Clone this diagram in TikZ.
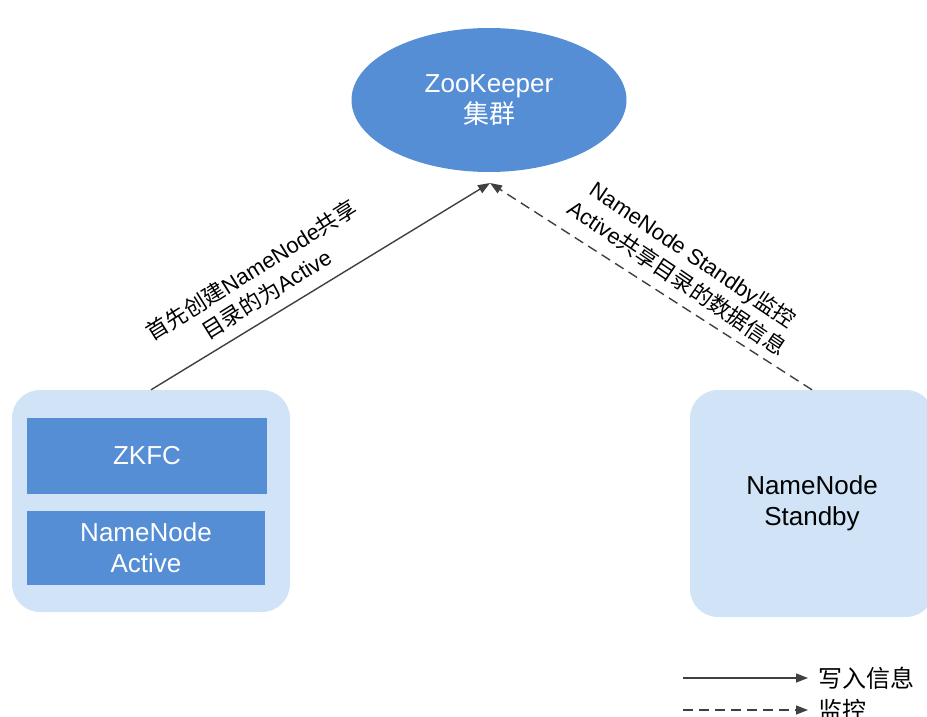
\documentclass[tikz,border=0pt]{standalone}
\usepackage{fontspec}
\setmainfont{Liberation Sans}
\newfontfamily\cjk{Noto Sans CJK SC}
\usetikzlibrary{shapes,arrows.meta,positioning,calc}
\definecolor{zkblue}{RGB}{85,142,213}
\definecolor{paleblue}{RGB}{209,228,247}
\definecolor{linegray}{RGB}{64,64,64}

\begin{document}
\begin{tikzpicture}[x=1pt, y=-1pt,
    holder/.style={fill=paleblue, rounded corners=28pt, align=center,
                   font=\fontsize{26}{31}\selectfont},
    inner/.style={fill=zkblue, text=white, align=center,
                  font=\fontsize{26}{31}\selectfont},
    link/.style={draw=linegray, line width=1.4pt,
                 -{Triangle[length=12pt,width=9pt]}},
    note/.style={align=center, font=\fontsize{22}{28}\selectfont},
    legendtext/.style={anchor=west, inner xsep=10pt, font=\fontsize{24}{28}\selectfont}]
  \useasboundingbox (0,0) rectangle (927,717);

  % ZooKeeper cluster
  \node[inner, ellipse, minimum width=275pt, minimum height=144pt] (zk)
       at (489,100) {ZooKeeper\\{\cjk 集群}};
  \coordinate (meet) at (490,183);

  % active side
  \node[holder, minimum width=278pt, minimum height=222pt] (activebox) at (151,501) {};
  \node[inner, minimum width=240pt, minimum height=76pt] (zkfc) at (147,456) {ZKFC};
  \node[inner, minimum width=238pt, minimum height=74pt] (nnactive) at (146,548)
       {NameNode\\Active};

  % standby side
  \node[holder, minimum width=244pt, minimum height=227pt] (standbybox) at (812,503.5)
       {NameNode\\Standby};

  % connectors
  \draw[link] (activebox.north) -- (meet);
  \draw[link, dash pattern=on 10pt off 6pt] (standbybox.north) -- (meet);

  \node[note, rotate=32] (writenote) at (259,282)
       {{\cjk 首先创建}NameNode{\cjk 共享}\\{\cjk 目录的为}Active};
  \node[note, rotate=-34] (watchnote) at (685,266)
       {NameNode Standby{\cjk 监控}\\Active{\cjk 共享目录的数据信息}};

  % legend
  \coordinate (legA) at (683,678);
  \coordinate (legB) at (683,710);
  \node[legendtext] (legwrite) at (808,678) {\cjk 写入信息};
  \node[legendtext] (legwatch) at (808,710) {\cjk 监控};
  \draw[link] (legA) -- (legwrite.west);
  \draw[link, dash pattern=on 10pt off 6pt] (legB) -- (legwatch.west);
\end{tikzpicture}
\end{document}
